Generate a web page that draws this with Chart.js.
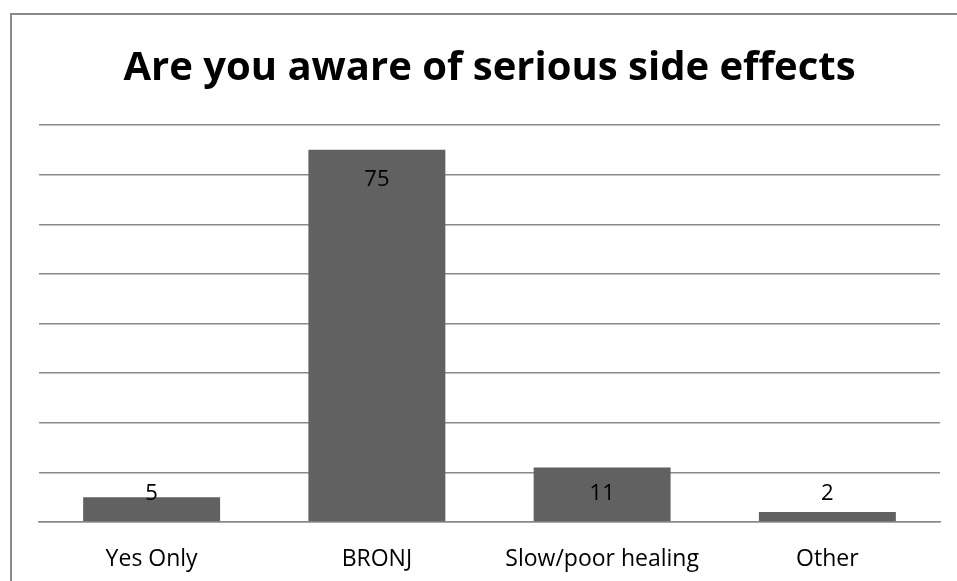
<!DOCTYPE html>
<html>
<head>
<meta charset="utf-8">
<script src="https://cdn.jsdelivr.net/npm/chart.js@4.4.1/dist/chart.umd.min.js"></script>
<style>
  html, body { margin: 0; padding: 0; background: #fff; overflow: hidden; }
  #frame {
    position: absolute; left: 10px; top: 13px; width: 1200px; height: 800px;
    border-left: 2px solid #8a8a8a; border-top: 2px solid #8a8a8a;
  }
  #wrap { position: absolute; left: 0; top: 0; width: 957px; height: 581px; }
</style>
</head>
<body>
<div id="frame"></div>
<div id="wrap"><canvas id="chart"></canvas></div>
<script>
// 데이터
const chartTitle = 'Are you aware of serious side effects';
const categories = ['Yes Only', 'BRONJ', 'Slow/poor healing', 'Other'];
const counts = [5, 75, 11, 2];
const yTicks = [0, 10, 20, 30, 40, 50, 60, 70, 80];

const FONT = '"Open Sans", "Noto Sans", sans-serif';

// 제목 그리기
const titlePlugin = {
    id: 'titleText',
    afterDraw(chart) {
        const ctx = chart.ctx;
        const area = chart.chartArea;
        ctx.save();
        ctx.fillStyle = '#000';
        ctx.font = 'bold 40px ' + FONT;
        ctx.textAlign = 'center';
        ctx.textBaseline = 'alphabetic';
        ctx.fillText(chartTitle, (area.left + area.right) / 2, 80);
        ctx.restore();
    }
};

// 막대 안쪽 위에 값 표시 (짧은 막대는 축 위로 고정)
const valueLabels = {
    id: 'valueLabels',
    afterDatasetsDraw(chart) {
        const ctx = chart.ctx;
        const meta = chart.getDatasetMeta(0);
        ctx.save();
        ctx.fillStyle = '#000';
        ctx.font = '22px ' + FONT;
        ctx.textAlign = 'center';
        ctx.textBaseline = 'middle';
        meta.data.forEach((bar, i) => {
            const y = Math.min(bar.y + 30, bar.base - 28);
            ctx.fillText(String(counts[i]), bar.x, y);
        });
        ctx.restore();
    }
};

const ctx = document.getElementById('chart').getContext('2d');
new Chart(ctx, {
    type: 'bar',
    data: {
        labels: categories,
        datasets: [{
            data: counts,
            backgroundColor: '#616161',
            borderWidth: 0,
            categoryPercentage: 1,
            barPercentage: 0.608
        }]
    },
    options: {
        responsive: true,
        maintainAspectRatio: false,
        animation: false,
        layout: { padding: { left: 39, right: 17, top: 125, bottom: 0 } },
        plugins: {
            legend: { display: false },
            tooltip: { enabled: false }
        },
        scales: {
            x: {
                grid: { display: false },
                border: { color: '#8a8a8a', width: 1.5 },
                ticks: { color: '#000', font: { family: FONT, size: 23 }, padding: 16 },
                afterFit(scale) { scale.height = 59; }
            },
            y: {
                min: yTicks[0],
                max: yTicks[yTicks.length - 1],
                afterBuildTicks(scale) { scale.ticks = yTicks.map(v => ({ value: v })); },
                grid: { color: '#8a8a8a', lineWidth: 1.5, drawTicks: false },
                border: { display: false },
                ticks: { display: false },
                afterFit(scale) { scale.width = 0; }
            }
        }
    },
    plugins: [titlePlugin, valueLabels]
});
</script>
</body>
</html>
